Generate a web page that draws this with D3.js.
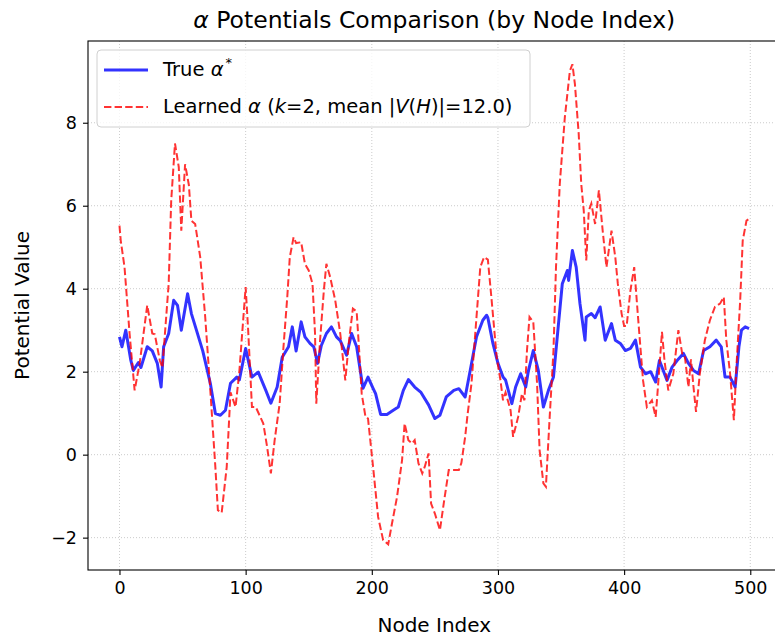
<!DOCTYPE html>
<html>
<head>
<meta charset="utf-8">
<script src="https://cdn.jsdelivr.net/npm/d3@7"></script>
<style>
body{margin:0;background:#fff;}
text{font-family:"DejaVu Sans",sans-serif;fill:#000;}
</style>
</head>
<body>
<svg id="svg" width="775" height="637"></svg>
<script>
// node index / value pairs
var trueIdx = [0,2,5,9,11,15,17,22,26,30,33,35,39,43,46,49,54,57,61,66,72,76,80,84,88,93,95,100,105,110,116,120,125,129,134,137,140,144,147,151,154,157,160,164,168,172,175,180,184,188,193,197,201,203,207,212,217,221,225,229,234,239,245,250,254,259,265,269,274,278,283,288,291,292,296,300,304,306,311,314,318,322,324,328,332,336,340,344,347,351,355,356,359,362,365,369,370,374,377,381,385,390,393,397,401,405,409,413,417,421,425,428,434,438,442,447,451,455,459,463,468,473,477,480,484,488,491,493,496,499];
var trueVal = [2.84,2.6,3.0,2.27,2.03,2.22,2.1,2.6,2.5,2.2,1.63,2.6,2.92,3.72,3.6,3.0,3.88,3.4,3.0,2.5,1.72,0.99,0.95,1.07,1.72,1.87,1.8,2.56,1.87,1.99,1.55,1.24,1.63,2.35,2.6,3.08,2.5,3.2,2.84,2.68,2.6,2.2,2.63,2.92,3.08,2.84,2.75,2.4,2.92,2.6,1.6,1.87,1.6,1.47,0.97,0.97,1.07,1.15,1.55,1.81,1.63,1.5,1.2,0.87,0.95,1.39,1.55,1.59,1.39,2.03,2.84,3.24,3.36,3.3,2.68,2.2,1.87,1.8,1.23,1.63,1.95,1.63,2.0,2.51,2.03,1.15,1.55,1.87,2.84,4.12,4.44,4.2,4.92,4.52,3.64,2.76,3.32,3.4,3.3,3.56,2.76,3.16,2.76,2.68,2.51,2.56,2.76,2.11,1.95,2.0,1.75,2.27,1.79,2.11,2.27,2.44,2.2,2.03,1.95,2.51,2.6,2.76,2.6,1.87,1.87,1.63,2.6,3.0,3.08,3.04];

var learnedIdx = [0,1,4,8,12,16,22,26,28,32,34,36,39,41,44,47,49,52,55,57,60,64,68,72,76,78,81,85,88,92,95,100,102,105,108,114,117,120,123,127,130,133,135,138,140,144,147,150,153,155,156,159,162,164,167,171,175,179,182,185,188,190,192,195,197,201,205,209,213,216,220,224,226,229,232,234,237,240,242,245,247,250,254,257,261,265,269,271,274,276,279,283,286,289,292,295,299,302,304,306,310,312,316,319,321,323,325,328,331,333,336,338,341,344,346,349,353,357,359,361,364,366,368,370,372,374,377,380,383,386,390,393,395,398,400,402,405,408,411,415,418,422,425,428,430,432,435,439,443,446,448,451,453,455,457,460,464,468,472,476,479,481,484,487,489,492,494,497,499];
var learnedVal = [5.52,5.16,4.52,2.92,1.55,2.2,3.6,2.92,2.9,2.27,2.1,2.9,4.12,6.12,7.5,6.93,5.4,7.0,6.5,5.64,5.56,4.76,3.3,1.55,-0.3,-1.34,-1.4,-0.3,1.5,1.15,2.0,4.04,3.0,1.15,1.15,0.75,0.19,-0.45,0.35,1.24,2.6,3.8,4.76,5.24,5.1,5.12,4.6,4.44,4.12,2.92,1.23,2.76,3.96,4.6,4.28,3.72,2.92,1.79,2.76,3.52,3.45,2.5,1.47,0.91,0.87,-0.29,-1.5,-2.06,-2.16,-1.66,-1.02,-0.13,0.75,0.35,0.27,0.35,-0.21,-0.45,-0.29,0.03,-1.18,-1.42,-1.82,-1.18,-0.37,-0.37,-0.37,-0.2,0.43,0.99,1.71,3.32,4.52,4.76,4.7,3.72,2.35,1.79,1.31,1.5,1.07,0.43,0.91,1.47,1.31,2.51,3.32,3.2,1.71,0.11,-0.69,-0.77,0.91,2.51,4.52,6.53,8.13,9.25,9.41,8.93,7.73,6.53,5.88,4.68,5.88,6.05,5.56,6.37,5.4,4.52,5.4,4.76,4.12,3.4,3.1,3.1,3.96,4.52,3.32,1.79,1.15,1.31,0.91,2.11,2.96,2.27,1.55,1.95,3.0,2.44,2.4,1.63,2.3,1.63,1.03,1.95,2.76,3.24,3.56,3.64,3.8,2.76,1.95,0.83,2.11,3.72,5.16,5.64,5.68];

var xTicks = [0,100,200,300,400,500];
var yTicks = [-2,0,2,4,6,8];

var svg = d3.select("#svg");
var plotL = 88, plotR = 780.5, plotT = 41, plotB = 570;

var x = d3.scaleLinear().domain([-24.95,523.95]).range([plotL,plotR]);
var y = d3.scaleLinear().domain([-2.78,9.97]).range([plotB,plotT]);

// grid
svg.append("g").selectAll("line").data(xTicks).enter().append("line")
    .attr("x1",function(d){ return x(d); }).attr("x2",function(d){ return x(d); })
    .attr("y1",plotT).attr("y2",plotB)
    .attr("stroke","#b0b0b0").attr("stroke-width",0.8).attr("stroke-dasharray","1,2").attr("opacity",0.8);
svg.append("g").selectAll("line").data(yTicks).enter().append("line")
    .attr("y1",function(d){ return y(d); }).attr("y2",function(d){ return y(d); })
    .attr("x1",plotL).attr("x2",plotR)
    .attr("stroke","#b0b0b0").attr("stroke-width",0.8).attr("stroke-dasharray","1,2").attr("opacity",0.8);

var line = d3.line()
    .x(function(d){ return x(d[0]); })
    .y(function(d){ return y(d[1]); });

var trueData = d3.zip(trueIdx,trueVal);
var learnedData = d3.zip(learnedIdx,learnedVal);

svg.append("path").datum(trueData)
    .attr("d",line).attr("fill","none")
    .attr("stroke","#0000ff").attr("stroke-opacity",0.8)
    .attr("stroke-width",3).attr("stroke-linejoin","round");

svg.append("path").datum(learnedData)
    .attr("d",line).attr("fill","none")
    .attr("stroke","#ff0000").attr("stroke-opacity",0.8)
    .attr("stroke-width",2).attr("stroke-dasharray","7.4,3.2");

// axes
var xAxis = d3.axisBottom(x).tickValues(xTicks).tickSize(5).tickPadding(7);
var yAxis = d3.axisLeft(y).tickValues(yTicks).tickSize(5).tickPadding(6)
    .tickFormat(function(d){ return d<0 ? "\u2212"+Math.abs(d) : d; });

var gx = svg.append("g").attr("transform","translate(0,"+plotB+")").call(xAxis);
var gy = svg.append("g").attr("transform","translate("+plotL+",0)").call(yAxis);
[gx,gy].forEach(function(g){
    g.select(".domain").remove();
    g.selectAll("text").style("font-size","17.5px").style("font-family","DejaVu Sans");
    g.selectAll("line").attr("stroke","#000").attr("stroke-width",1.1);
});

// frame
svg.append("rect").attr("x",plotL).attr("y",plotT)
    .attr("width",plotR-plotL).attr("height",plotB-plotT)
    .attr("fill","none").attr("stroke","#000").attr("stroke-width",1.1);

// title and labels
var title = svg.append("text").attr("x",(plotL+plotR)/2).attr("y",28)
    .attr("text-anchor","middle").style("font-size","23.5px");
title.append("tspan").style("font-style","italic").text("\u03b1");
title.append("tspan").text(" Potentials Comparison (by Node Index)");

svg.append("text").attr("x",(plotL+plotR)/2).attr("y",632)
    .attr("text-anchor","middle").style("font-size","20px").text("Node Index");

svg.append("text").attr("transform","translate(29,"+((plotT+plotB)/2)+") rotate(-90)")
    .attr("text-anchor","middle").style("font-size","20px").text("Potential Value");

// legend
var lg = svg.append("g");
lg.append("rect").attr("x",97).attr("y",50).attr("width",433).attr("height",77)
    .attr("rx",4).attr("fill","#fff").attr("fill-opacity",0.8)
    .attr("stroke","#d0d0d0").attr("stroke-width",1);
lg.append("line").attr("x1",104).attr("x2",148).attr("y1",70).attr("y2",70)
    .attr("stroke","#0000ff").attr("stroke-opacity",0.8).attr("stroke-width",3);
lg.append("line").attr("x1",104).attr("x2",148).attr("y1",107).attr("y2",107)
    .attr("stroke","#ff0000").attr("stroke-opacity",0.8).attr("stroke-width",2)
    .attr("stroke-dasharray","7.4,3.2");

var t1 = lg.append("text").attr("x",163).attr("y",76).style("font-size","19.5px");
t1.append("tspan").text("True ");
t1.append("tspan").style("font-style","italic").text("\u03b1");
t1.append("tspan").attr("dy",-9).attr("dx",2).style("font-size","13px").text("*");

var t2 = lg.append("text").attr("x",163).attr("y",113).style("font-size","19.5px");
var parts = [["Learned ",0],["\u03b1",1],[" (",0],["k",1],["=2, mean |",0],["V",1],["(",0],["H",1],[")|=12.0)",0]];
parts.forEach(function(p){
    t2.append("tspan").style("font-style",p[1]?"italic":"normal").text(p[0]);
});
</script>
</body>
</html>
